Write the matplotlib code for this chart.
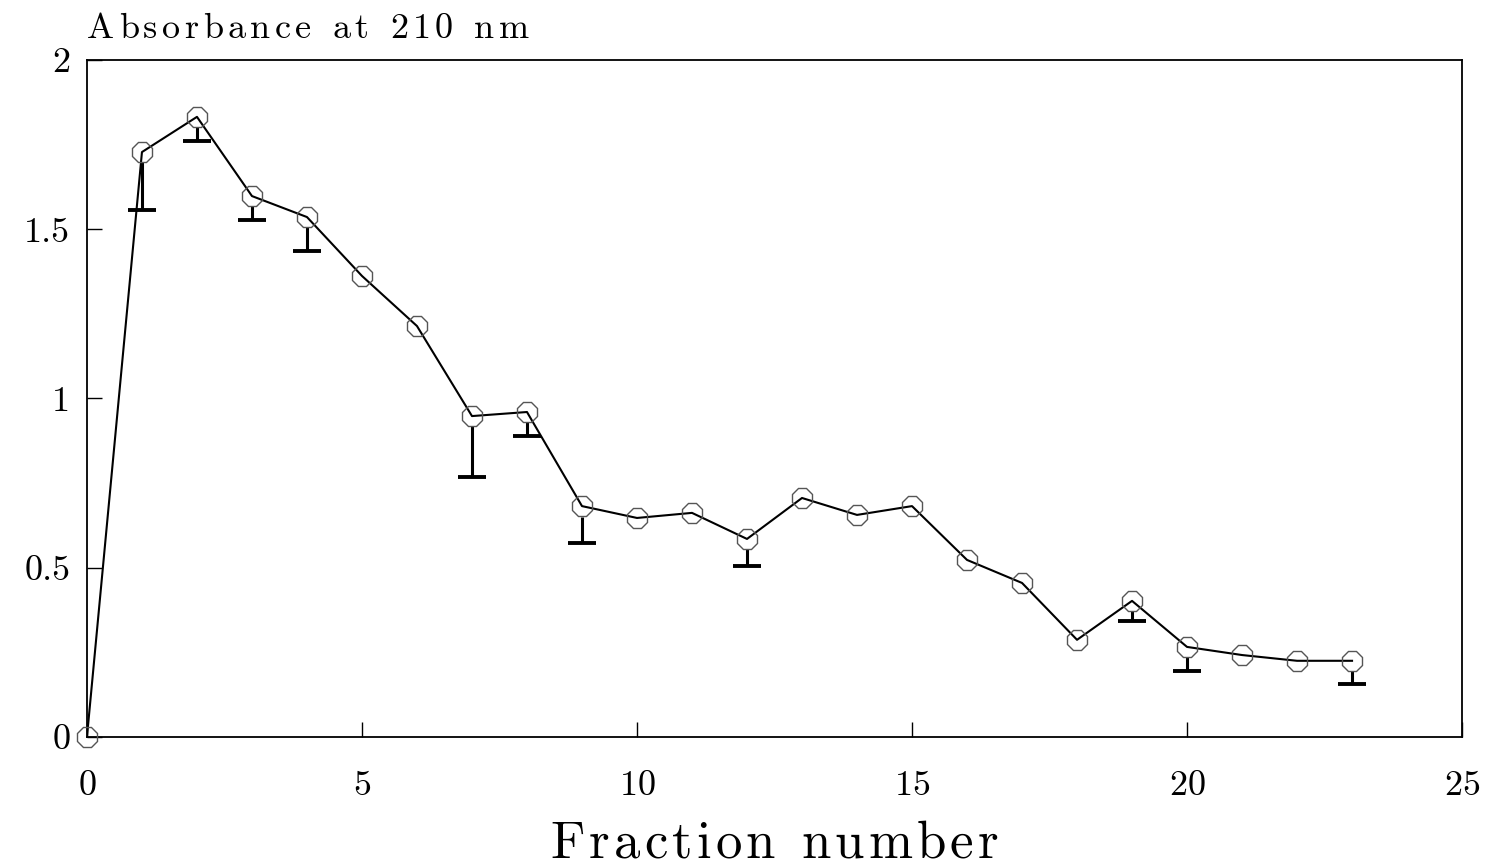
import matplotlib.pyplot as plt
from matplotlib.font_manager import FontProperties
from matplotlib.textpath import TextToPath

plt.rcParams['font.family'] = ['cmr10', 'DejaVu Serif']
plt.rcParams['axes.formatter.use_mathtext'] = True

# absorbance per fraction, with the lower spread where it was measured
fraction = [0, 1, 2, 3, 4, 5, 6, 7, 8, 9, 10, 11, 12, 13, 14, 15, 16, 17, 18, 19, 20, 21, 22, 23]
absorbance = [0.0, 1.728, 1.832, 1.598, 1.536, 1.362, 1.214, 0.948, 0.960, 0.682, 0.647, 0.662,
              0.585, 0.706, 0.656, 0.682, 0.523, 0.455, 0.287, 0.402, 0.266, 0.242, 0.225, 0.225]
lower_err = [0, 0.17, 0.07, 0.07, 0.10, 0, 0, 0.18, 0.07, 0.11, 0, 0,
             0.08, 0, 0, 0, 0, 0, 0, 0.06, 0.07, 0, 0, 0.07]

W, H, DPI = 1489, 867, 100
fig = plt.figure(figsize=(W / DPI, H / DPI), dpi=DPI)
ax = fig.add_axes([0.0584, 0.150, 0.9235, 0.7808])

_ttp = TextToPath()


def spaced_text(x_px, y_px, s, size, gap_px, ha='left'):
    """Letter-spaced text; x_px/y_px in pixels from the top-left, y is the baseline."""
    fp = FontProperties(family='cmr10', size=size)

    def adv(t):
        w = _ttp.get_text_width_height_descent(t + '|', fp, ismath=False)[0]
        w0 = _ttp.get_text_width_height_descent('|', fp, ismath=False)[0]
        return (w - w0) * DPI / 72

    offsets = [adv(s[:i]) + i * gap_px for i in range(len(s))]
    total = adv(s) + (len(s) - 1) * gap_px
    x0 = x_px - total / 2 if ha == 'center' else x_px
    for c, off in zip(s, offsets):
        if c != ' ':
            fig.text((x0 + off) / W, 1 - y_px / H, c, fontproperties=fp,
                     ha='left', va='baseline')


# lower error bars: stem from the marker edge down to a flat cap
marker_r = 7.5 * DPI / 72 / (ax.get_position().height * H) * 2.0
for f, a, e in zip(fraction, absorbance, lower_err):
    if e > 0:
        ax.vlines(f, a - e, a - marker_r, color='black', lw=2.2, zorder=2)
        ax.hlines(a - e, f - 0.25, f + 0.25, color='black', lw=2.8, zorder=2)

ax.plot(fraction, absorbance, color='black', lw=1.5, zorder=3)
ax.plot(fraction, absorbance, ls='none', marker='8', ms=15, mfc='none',
        mec='#555555', mew=1.0, zorder=4, clip_on=False)

ax.set_xlim(0, 25)
ax.set_ylim(0, 2)
ax.set_xticks([0, 5, 10, 15, 20, 25])
ax.set_yticks([0, 0.5, 1, 1.5, 2])
ax.set_yticklabels(['0', '0.5', '1', '1.5', '2'])
ax.tick_params(direction='in', length=11, width=1, labelsize=26,
               top=False, right=False)
ax.tick_params(axis='x', pad=24)
ax.tick_params(axis='y', pad=12)
for s in ax.spines.values():
    s.set_linewidth(1.3)

spaced_text(87, 38, 'Absorbance at 210 nm', 26, 4.5)
spaced_text(774, 858, 'Fraction number', 38, 4.2, ha='center')

fig.savefig('out.png', dpi=DPI, facecolor='white')
